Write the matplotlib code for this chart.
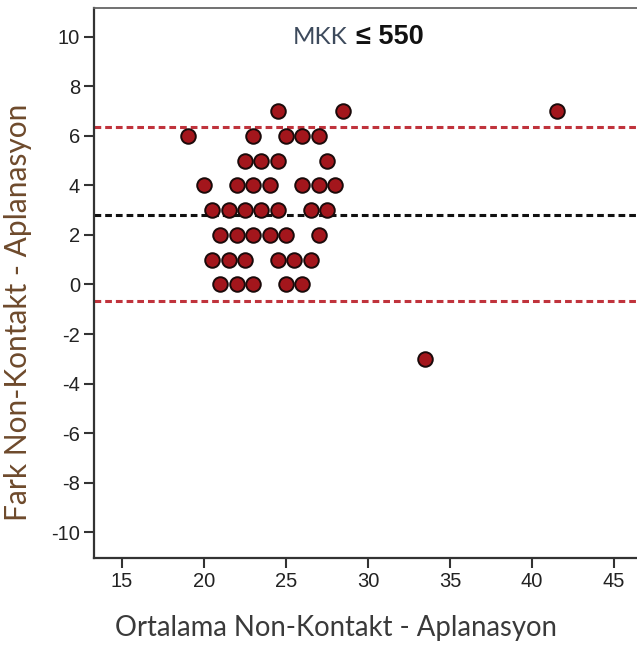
import matplotlib
matplotlib.use("Agg")
import matplotlib.pyplot as plt

plt.rcParams["axes.unicode_minus"] = False

# Bland-Altman data: mean of the two methods (x) and their difference (y)
x_mean = [24.5, 28.5, 41.5,
          19, 23, 25, 26, 27,
          22.5, 23.5, 24.5, 27.5,
          20, 22, 23, 24, 26, 27, 28,
          20.5, 21.5, 22.5, 23.5, 24.5, 26.5, 27.5,
          21, 22, 23, 24, 25, 27,
          20.5, 21.5, 22.5, 24.5, 25.5, 26.5,
          21, 22, 23, 25, 26,
          33.5]
y_diff = [7, 7, 7,
          6, 6, 6, 6, 6,
          5, 5, 5, 5,
          4, 4, 4, 4, 4, 4, 4,
          3, 3, 3, 3, 3, 3, 3,
          2, 2, 2, 2, 2, 2,
          1, 1, 1, 1, 1, 1,
          0, 0, 0, 0, 0,
          -3]

mean_diff = 2.8
upper_loa = 6.35
lower_loa = -0.65

x_ticks = [15, 20, 25, 30, 35, 40, 45]
y_ticks = [-10, -8, -6, -4, -2, 0, 2, 4, 6, 8, 10]

fig = plt.figure(figsize=(6.37, 6.46), dpi=100)
ax = fig.add_axes([0.1476, 0.1362, 0.8524, 0.8514])

red = "#c0333c"
ax.axhline(upper_loa, color=red, lw=2.2, dashes=(2.2, 1.3), zorder=1)
ax.axhline(lower_loa, color=red, lw=2.2, dashes=(2.2, 1.3), zorder=1)
ax.axhline(mean_diff, color="#111111", lw=2.2, dashes=(2.2, 1.3), zorder=1)

ax.scatter(x_mean, y_diff, s=110, color="#a3161c", edgecolor="#1a0a0a",
           linewidth=1.4, zorder=3)

ax.set_xlim(13.3, 46.4)
ax.set_ylim(-11.05, 11.17)
ax.set_xticks(x_ticks)
ax.set_yticks(y_ticks)

for t in ax.get_xticklabels() + ax.get_yticklabels():
    t.set_fontfamily("Liberation Sans")
    t.set_fontsize(14.5)
    t.set_color("#222222")
ax.tick_params(direction="out", length=7, width=1.5, color="#333333", pad=3)

ax.spines["right"].set_visible(False)
for s in ["left", "bottom"]:
    ax.spines[s].set_linewidth(1.6)
    ax.spines[s].set_color("#333333")
ax.spines["top"].set_linewidth(1.3)
ax.spines["top"].set_color("#666666")

fig.text(336 / 637, 1 - 628 / 646, "Ortalama Non-Kontakt - Aplanasyon",
         fontsize=19.8, family="Lato", color="#3a3a3a", ha="center", va="center")
fig.text(18 / 637, 1 - 312 / 646, "Fark Non-Kontakt - Aplanasyon",
         fontsize=21.5, family="Lato", color="#6e4a2c", ha="center",
         va="center", rotation=90)

fig.text(293 / 637, 1 - 37 / 646, "MKK", fontsize=17.5, family="Lato",
         color="#3d4a5c", ha="left", va="center")
fig.text(356 / 637, 1 - 37 / 646, "\u2264 550", fontsize=19.5,
         family="Liberation Sans", fontweight="bold", color="#111111",
         ha="left", va="center")

fig.savefig("out.png", dpi=100)
